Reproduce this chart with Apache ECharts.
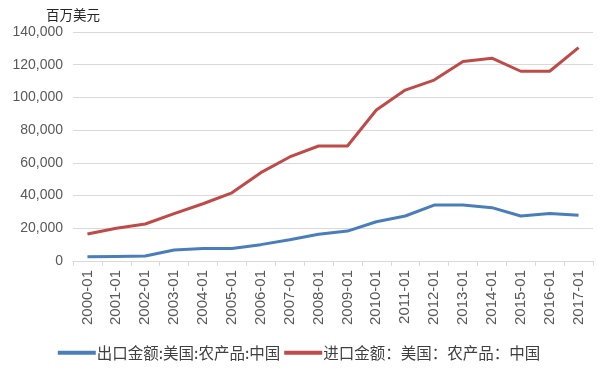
<!DOCTYPE html>
<html><head><meta charset="utf-8">
<script src="https://cdn.jsdelivr.net/npm/echarts@6/dist/echarts.min.js"></script>
<style>html,body{margin:0;padding:0;background:#fff}#c{width:598px;height:368px}</style>
</head><body><div id="c"></div>
<script>
const categories = ['2000-01','2001-01','2002-01','2003-01','2004-01','2005-01','2006-01','2007-01','2008-01','2009-01','2010-01','2011-01','2012-01','2013-01','2014-01','2015-01','2016-01','2017-01'];
const exportValues = [2600, 2800, 3000, 6700, 7700, 7700, 10000, 13000, 16300, 18300, 24000, 27500, 34200, 34200, 32600, 27500, 29100, 27900];
const importValues = [16500, 20000, 22600, 29000, 35000, 41700, 54000, 63600, 70300, 70300, 92300, 104500, 110600, 122000, 124000, 116000, 116000, 130400];
const seriesNames = ['出口金额:美国:农产品:中国', '进口金额：美国：农产品：中国'];
const unitLabel = '百万美元';

const chart = echarts.init(document.getElementById('c'));
const font = '"Liberation Sans", Arial, "Noto Sans CJK SC", sans-serif';
chart.setOption({
  animation: false,
  textStyle: { fontFamily: font },
  grid: { left: 73, right: 5, top: 32, bottom: 107, containLabel: false },
  legend: {
    top: 340, left: 'center',
    itemWidth: 38, itemHeight: 4, itemGap: 4,
    icon: 'rect',
    textStyle: { fontSize: 15.5, color: '#404040', padding: [0, 0, 0, -4], fontFamily: '"Noto Sans CJK SC", sans-serif' },
    data: seriesNames
  },
  xAxis: {
    type: 'category', data: categories, boundaryGap: true,
    axisLine: { lineStyle: { color: '#d9d9d9' } },
    axisTick: { show: true, length: 5, lineStyle: { color: '#d9d9d9' } },
    axisLabel: { rotate: 90, fontSize: 15, color: '#595959', interval: 0, margin: 9 }
  },
  yAxis: {
    type: 'value', min: 0, max: 140000, interval: 20000,
    name: unitLabel, nameLocation: 'end', nameGap: 10,
    nameTextStyle: { fontSize: 13.5, color: '#262626', align: 'center', padding: [0, 0, 0, 0], fontFamily: '"Noto Sans CJK SC", sans-serif' },
    axisLine: { show: false }, axisTick: { show: false },
    splitLine: { lineStyle: { color: '#d9d9d9' } },
    axisLabel: { fontSize: 14, color: '#595959', margin: 10,
      formatter: v => v.toLocaleString('en-US') }
  },
  series: [
    { name: seriesNames[0], type: 'line', data: exportValues, symbol: 'none',
      lineStyle: { width: 3, color: '#4a7ebb' }, itemStyle: { color: '#4a7ebb' } },
    { name: seriesNames[1], type: 'line', data: importValues, symbol: 'none',
      lineStyle: { width: 3, color: '#be4b48' }, itemStyle: { color: '#be4b48' } }
  ]
});
</script></body></html>
